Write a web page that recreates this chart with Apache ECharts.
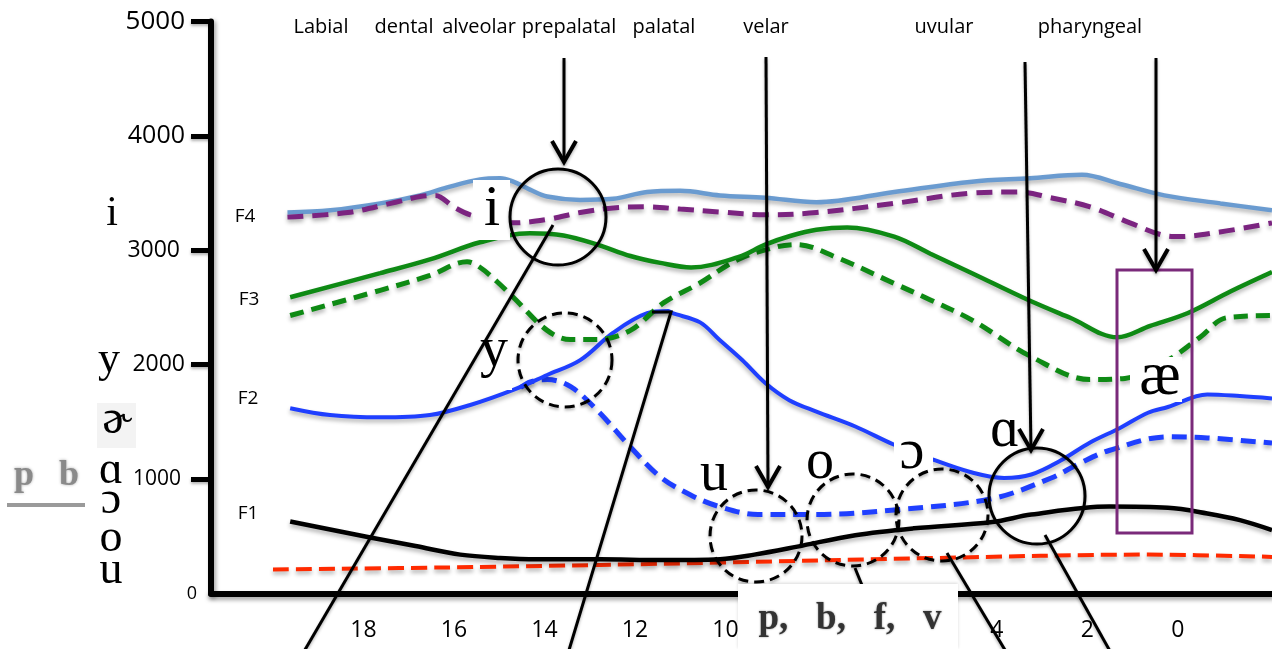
<!DOCTYPE html>
<html><head><meta charset="utf-8">
<script src="https://cdn.jsdelivr.net/npm/echarts@6/dist/echarts.min.js"></script>
<style>html,body{margin:0;padding:0;background:#fff}#c{width:1272px;height:649px}</style>
</head><body><div id="c"></div>
<script>
// ---- data (x = position value on the reversed axis, y = frequency in Hz) ----
const xTickLabels = [18, 16, 14, 12, 10, 4, 2, 0];
const yTickLabels = [0, 1000, 2000, 3000, 4000, 5000];
const placeLabels = ['Labial', 'dental', 'alveolar', 'prepalatal', 'palatal', 'velar', 'uvular', 'pharyngeal'];
const formantLabels = ['F4', 'F3', 'F2', 'F1'];
const vowelColumn = ['i', 'y', 'ɚ', 'ɑ', 'ɔ', 'o', 'u'];

const F4_solid = [[19.68,3330],[18.73,3350],[17.63,3410],[16.75,3480],[16.15,3550],[15.42,3620],[14.98,3630],[14.69,3600],[14.32,3530],[13.94,3470],[13.21,3440],[12.48,3450],[11.73,3510],[11.00,3520],[10.12,3480],[9.12,3460],[7.99,3420],[6.27,3510],[4.55,3600],[3.27,3630],[2.12,3660],[1.28,3580],[0.30,3480],[-0.94,3410],[-2.08,3350]];
const F4_dashed = [[19.68,3290],[18.35,3330],[17.40,3410],[16.75,3470],[16.41,3480],[16.01,3380],[15.64,3310],[15.08,3260],[14.69,3240],[13.94,3270],[13.21,3330],[12.48,3370],[11.73,3380],[11.00,3360],[10.12,3335],[9.12,3310],[7.99,3330],[6.27,3410],[4.55,3500],[3.51,3510],[2.82,3460],[1.94,3380],[1.06,3240],[0.30,3130],[-0.05,3120],[-0.93,3160],[-2.08,3240]];
const F3_solid = [[19.62,2590],[17.63,2800],[16.53,2920],[15.42,3070],[14.32,3150],[13.58,3130],[12.83,3050],[12.10,2950],[11.44,2890],[10.76,2850],[9.72,2940],[9.12,3050],[8.57,3125],[7.99,3180],[7.31,3200],[6.27,3120],[5.47,2970],[4.55,2800],[3.33,2570],[2.38,2410],[1.34,2240],[0.61,2340],[-0.21,2450],[-1.16,2640],[-2.08,2810]];
const F3_dashed = [[19.62,2430],[17.63,2650],[16.53,2780],[15.71,2900],[15.42,2850],[15.04,2723],[14.69,2590],[13.94,2300],[13.43,2220],[12.83,2220],[12.10,2300],[11.37,2540],[10.58,2710],[9.72,2920],[8.86,3030],[8.42,3050],[7.56,2940],[6.27,2710],[5.47,2566],[4.55,2390],[3.24,2070],[1.94,1870],[1.17,1880],[0.22,2040],[-0.49,2240],[-1.07,2410],[-2.08,2430]];
const F2_solid = [[19.62,1620],[18.74,1560],[17.63,1540],[16.53,1560],[15.64,1648],[14.69,1780],[13.94,1910],[13.21,2040],[12.48,2280],[11.73,2450],[11.26,2470],[11.18,2452],[10.56,2370],[10.14,2220],[9.63,2041],[9.12,1840],[8.59,1690],[7.99,1590],[7.13,1460],[6.27,1300],[5.41,1170],[4.59,1062],[3.84,1010],[3.24,1040],[2.60,1160],[1.94,1320],[1.28,1447],[0.66,1580],[0.22,1630],[-0.65,1740],[-1.37,1726],[-2.08,1705]];
const F2_dashed = [[14.53,1800],[14.31,1850],[13.94,1870],[13.43,1810],[12.83,1600],[12.10,1281],[11.44,1020],[10.77,861],[10.14,760],[9.28,690],[7.99,690],[6.27,730],[4.10,830],[2.80,1010],[2.16,1140],[1.52,1250],[0.22,1370],[-0.65,1360],[-2.08,1315]];
const F1_solid = [[19.62,630],[17.85,490],[16.85,415],[15.86,340],[14.98,311],[14.16,300],[12.77,300],[11.44,292],[10.12,300],[9.36,340],[8.41,410],[7.13,510],[5.83,570],[4.10,625],[3.24,690],[1.52,760],[0.22,750],[-0.65,700],[-1.37,642],[-2.08,555]];
const F0_dashed = [[20.0,210],[15.42,232],[10.12,270],[5.41,310],[0.66,340],[-2.08,320]];

// ---- chart ----
const chart = echarts.init(document.getElementById('c'), null, {renderer: 'canvas'});
const SH = {shadowColor: 'rgba(0,0,0,0.3)', shadowBlur: 4, shadowOffsetY: 3};

function lineSeries(name, data, color, width, dash, z) {
  return {
    type: 'line', name, data, smooth: 0.35, showSymbol: false, symbol: 'none', z,
    lineStyle: Object.assign({color, width, type: dash || 'solid'}, SH)
  };
}

const yStyleKey = {0: 's0', 1000: 's1', 2000: 's2', 3000: 's3', 4000: 's4', 5000: 's5'};

const serif = '"Liberation Serif", "DejaVu Serif", serif';
const sans = '"Open Sans", sans-serif';
const stroke = {stroke: '#000', lineWidth: 3, fill: null, shadowColor: 'rgba(0,0,0,0.3)', shadowBlur: 3, shadowOffsetY: 2};

const G = [];
function txt(text, x, y, size, opts) {
  G.push({type: 'text', x, y, z: 80, style: Object.assign({text, fill: '#000', font: size + 'px ' + sans, align: 'center', verticalAlign: 'middle'}, opts || {})});
}
function box(x, y, w, h, z, fill) {
  G.push({type: 'rect', z: z || 70, shape: {x, y, width: w, height: h}, style: {fill: fill || '#fff'}});
}
function ln(x1, y1, x2, y2, extra) {
  G.push({type: 'line', z: 90, shape: {x1, y1, x2, y2}, style: Object.assign({}, stroke, extra || {})});
}
function pl(points, extra) {
  G.push({type: 'polyline', z: 90, shape: {points}, style: Object.assign({}, stroke, extra || {})});
}
function circ(cx, cy, r, dashed) {
  G.push({type: 'circle', z: 90, shape: {cx, cy, r}, style: Object.assign({}, stroke, dashed ? {lineDash: [10, 6]} : {})});
}
function arrow(x1, y1, x2, y2) {
  ln(x1, y1, x2, y2);
  pl([[x2 - 12, y2 - 21], [x2, y2], [x2 + 12, y2 - 21]], {lineWidth: 4});
}

// top place-of-articulation labels
const placeX = [321, 404, 479, 569, 664, 766, 944, 1090];
placeLabels.forEach((t, i) => txt(t, placeX[i], 27, 20));
// formant labels
const fPos = [[245, 217], [249, 300], [248, 399], [248, 514]];
formantLabels.forEach((t, i) => txt(t, fPos[i][0], fPos[i][1], 19));
// left vowel column
box(97, 403, 39, 45, 60, '#f3f3f3');
const vPos = [[112, 214, 42], [109, 360, 44], [117, 420, 48], [111, 471, 46], [111, 501, 46], [111, 539, 46], [111, 571, 46]];
vowelColumn.forEach((t, i) => txt(t, vPos[i][0], vPos[i][1], vPos[i][2], {font: vPos[i][2] + 'px ' + serif}));
// p b in grey
txt('p', 24, 476, 36, {font: 'bold 36px ' + serif, fill: '#8a8a8a', textShadowColor: '#aaa', textShadowBlur: 3});
txt('b', 69, 476, 36, {font: 'bold 36px ' + serif, fill: '#8a8a8a', textShadowColor: '#aaa', textShadowBlur: 3});
box(7, 503, 78, 4, 60, '#9a9a9a');

// white boxes behind in-plot vowel labels and the labels
const inLabels = [
  ['i', 473, 180, 37, 60, 492, 210, 58],
  ['y', 478, 340, 34, 50, 494, 351, 56],
  ['u', 699, 460, 30, 34, 714, 475, 56],
  ['o', 804, 450, 32, 33, 820, 463, 56],
  ['ɔ', 894, 440, 39, 32, 912, 453, 56],
  ['ɑ', 986, 417, 41, 38, 1005, 431, 56],
  ['æ', 1130, 357, 52, 45, 1160, 378, 62]
];
inLabels.forEach(a => { box(a[1], a[2], a[3], a[4], 70); txt(a[0], a[5], a[6], a[7], {font: a[7] + 'px ' + serif}); });

// circles
circ(558, 217, 48, false);
circ(565, 360, 47, true);
circ(756, 536, 46, true);
circ(853, 520, 46, true);
circ(942, 515, 46, true);
circ(1037, 496, 48, false);
// connector lines
ln(553, 225, 299, 660);
pl([[652, 312], [671, 312], [566, 660]]);
ln(855, 568, 868, 600);
ln(947, 553, 1011, 660);
ln(1045, 535, 1115, 660);
// arrows from the top
arrow(564, 58, 564, 162);
arrow(766, 57, 768, 487);
arrow(1025, 62, 1031, 450);
arrow(1156, 58, 1156, 270);
// purple box
G.push({type: 'rect', z: 85, shape: {x: 1117, y: 270, width: 75, height: 263}, style: {fill: null, stroke: '#7a2a7a', lineWidth: 3}});
// p, b, f, v panel covering part of the x axis
G.push({type: 'rect', z: 95, shape: {x: 738, y: 584, width: 220, height: 65}, style: {fill: '#fff', shadowColor: 'rgba(0,0,0,0.15)', shadowBlur: 3, shadowOffsetY: -1}});
G.push({type: 'text', x: 850, y: 619, z: 96, style: {text: 'p,   b,   f,   v', font: 'bold 37px ' + serif, fill: '#333', align: 'center', verticalAlign: 'middle', textShadowColor: '#888', textShadowBlur: 2}});

const option = {
  animation: false,
  backgroundColor: '#fff',
  textStyle: {fontFamily: sans},
  grid: {left: 211, right: 0, top: 21.5, bottom: 55.5, containLabel: false, outerBoundsMode: 'none'},
  xAxis: {
    type: 'value', inverse: true, min: -2.08, max: 21.37,
    splitLine: {show: false},
    axisTick: {show: false},
    axisLine: {onZero: false, lineStyle: {color: '#000', width: 6, shadowColor: 'rgba(0,0,0,0.35)', shadowBlur: 4, shadowOffsetY: 3}},
    axisLabel: {customValues: xTickLabels, fontSize: 23, color: '#000', margin: 25, fontFamily: sans}
  },
  yAxis: {
    type: 'value', min: 0, max: 5000, interval: 1000,
    splitLine: {show: false},
    axisLine: {show: true, onZero: false, lineStyle: {color: '#000', width: 6, shadowColor: 'rgba(0,0,0,0.35)', shadowBlur: 4, shadowOffsetX: 2, shadowOffsetY: 2}},
    axisTick: {show: true, length: 20, customValues: yTickLabels.filter(v => v > 0), lineStyle: {color: '#000', width: 5, shadowColor: 'rgba(0,0,0,0.3)', shadowBlur: 3, shadowOffsetY: 2}},
    axisLabel: {
      customValues: yTickLabels,
      margin: 14, color: '#000', fontFamily: sans,
      formatter: v => '{' + yStyleKey[v] + '|' + v + '}',
      rich: {
        s5: {fontSize: 26, padding: [0, 12, 0, 0], color: '#000', fontFamily: sans},
        s4: {fontSize: 25, padding: [0, 12, 0, 0], color: '#000', fontFamily: sans},
        s3: {fontSize: 23, padding: [0, 17, 0, 0], color: '#000', fontFamily: sans},
        s2: {fontSize: 23, padding: [0, 12, 0, 0], color: '#000', fontFamily: sans},
        s1: {fontSize: 21, padding: [0, 16, 0, 0], color: '#000', fontFamily: sans},
        s0: {fontSize: 18, padding: [0, 0, 0, 0], color: '#000', fontFamily: sans}
      }
    }
  },
  series: [
    lineSeries('F0', F0_dashed, '#ff2a00', 4, [16, 7], 3),
    lineSeries('F1', F1_solid, '#000000', 4.5, null, 4),
    lineSeries('F2 dashed', F2_dashed, '#1f3fff', 5, [15, 8], 5),
    lineSeries('F2', F2_solid, '#1f3fff', 4, null, 5),
    lineSeries('F3 dashed', F3_dashed, '#0e8a14', 5, [14, 8], 6),
    lineSeries('F3', F3_solid, '#0e8a14', 4.5, null, 6),
    lineSeries('F4', F4_solid, '#6a9bd0', 4.5, null, 7),
    lineSeries('F4 dashed', F4_dashed, '#7b2480', 5, [16, 9], 8)
  ],
  graphic: G
};
chart.setOption(option);
</script>
</body></html>
